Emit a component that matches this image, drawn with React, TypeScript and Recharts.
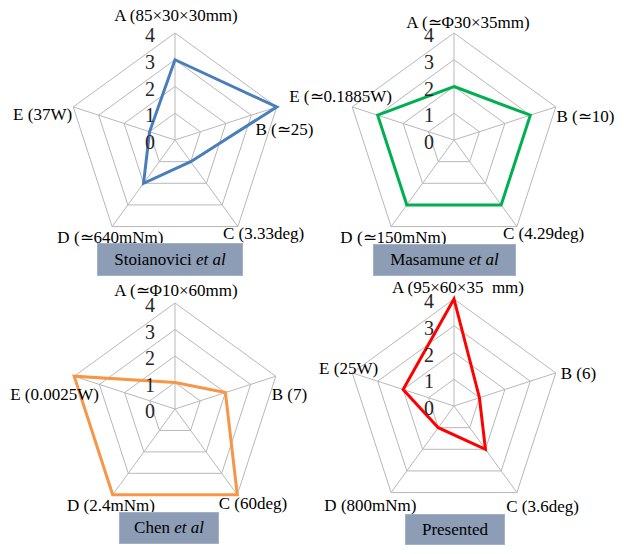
import React from 'react'
import { RadarChart, Radar, PolarGrid, PolarAngleAxis, PolarRadiusAxis } from 'recharts'

// scores 0..4 on five criteria, one radar per system
const stoianoviciAxes = ['A (85×30×30mm)', 'B (≃25)', 'C (3.33deg)', 'D (≃640mNm)', 'E (37W)']
const stoianoviciValues = [3, 4, 1, 2, 1]

const masamuneAxes = ['A (≃Φ30×35mm)', 'B (≃10)', 'C (4.29deg)', 'D (≃150mNm)', 'E (≃0.1885W)']
const masamuneValues = [2, 3, 3, 3, 3]

const chenAxes = ['A (≃Φ10×60mm)', 'B (7)', 'C (60deg)', 'D (2.4mNm)', 'E (0.0025W)']
const chenValues = [1, 2, 4, 4, 4]

const presentedAxes = ['A (95×60×35\u00a0 mm)', 'B (6)', 'C (3.6deg)', 'D (800mNm)', 'E (25W)']
const presentedValues = [4, 1, 2, 1, 2]

const radiusTicks = [0, 1, 2, 3, 4]

const W = 624
const H = 554
const serif = '"Liberation Serif", "Times New Roman", serif'

type Panel = {
  axes: string[]
  values: number[]
  color: string
  cx: number
  cy: number
  r: number
  labelShift: [number, number][]
  name: string
  italic?: string
  box: { left: number; top: number; width: number; height: number }
}

const panels: Panel[] = [
  {
    axes: stoianoviciAxes, values: stoianoviciValues, color: '#4a7ebb',
    cx: 175, cy: 140, r: 107,
    labelShift: [[1, -10], [0, 25], [21, 0], [3, 4], [-23, 10]],
    name: 'Stoianovici ', italic: 'et al',
    box: { left: 97, top: 243, width: 146, height: 33 },
  },
  {
    axes: masamuneAxes, values: masamuneValues, color: '#00b050',
    cx: 454, cy: 140, r: 107,
    labelShift: [[14, -3], [22, 12], [22, 0], [7, 4], [-4, -8]],
    name: 'Masamune ', italic: 'et al',
    box: { left: 373, top: 244, width: 143, height: 32 },
  },
  {
    axes: chenAxes, values: chenValues, color: '#f79646',
    cx: 175, cy: 409, r: 106,
    labelShift: [[1, -5], [6, 21], [11, 2], [3, 4], [-12, 21]],
    name: 'Chen ', italic: 'et al',
    box: { left: 119, top: 512, width: 100, height: 32 },
  },
  {
    axes: presentedAxes, values: presentedValues, color: '#ff0000',
    cx: 454, cy: 406, r: 107,
    labelShift: [[4, -4], [15, 3], [21, 7], [-16, 6], [4, -2]],
    name: 'Presented',
    box: { left: 405, top: 514, width: 100, height: 31 },
  },
]

function RadarPanel({ p }: { p: Panel }) {
  const data = p.axes.map((axis, i) => ({ axis, value: p.values[i] }))
  const angleTick = (props: any) => {
    const i = p.axes.indexOf(props.payload.value)
    const [dx, dy] = p.labelShift[i] || [0, 0]
    return (
      <text x={props.x + dx} y={props.y + dy} textAnchor="middle" dominantBaseline="central"
        fontSize={17} fontFamily={serif} fill="#000">
        {props.payload.value}
      </text>
    )
  }
  const radiusTick = (props: any) => (
    <text x={props.x - 25} y={props.y + 2} textAnchor="middle" dominantBaseline="central"
      fontSize={20} fontFamily={serif} fill="#262626">
      {props.payload.value}
    </text>
  )
  return (
    <div style={{ position: 'absolute', left: 0, top: 0 }}>
      <RadarChart width={W} height={H} data={data} cx={p.cx} cy={p.cy} outerRadius={p.r}
        margin={{ top: 0, right: 0, bottom: 0, left: 0 }}>
        <PolarGrid gridType="polygon" stroke="#b8b8b8" strokeWidth={1} />
        <PolarAngleAxis dataKey="axis" tick={angleTick} tickLine={false} axisLine={false} />
        <PolarRadiusAxis angle={90} domain={[0, 4]} ticks={radiusTicks as any} tickCount={5}
          axisLine={false} tick={radiusTick} />
        <Radar dataKey="value" stroke={p.color} strokeWidth={3} fill="none" fillOpacity={0}
          dot={false} isAnimationActive={false} />
      </RadarChart>
    </div>
  )
}

export default function App() {
  return (
    <div style={{ position: 'absolute', left: 0, top: 0, width: W, height: H, background: '#fff', overflow: 'hidden' }}>
      {panels.map((p) => <RadarPanel key={p.name} p={p} />)}
      {panels.map((p) => (
        <div key={p.name + 'box'} style={{
          position: 'absolute', left: p.box.left, top: p.box.top, width: p.box.width, height: p.box.height,
          background: '#8c9db5', border: '1px solid #a3b1c6', boxSizing: 'border-box',
          display: 'flex', alignItems: 'center', justifyContent: 'center',
          fontFamily: serif, fontSize: 17, color: '#000', whiteSpace: 'pre',
        }}>
          {p.name}{p.italic ? <i>{p.italic}</i> : null}
        </div>
      ))}
    </div>
  )
}
